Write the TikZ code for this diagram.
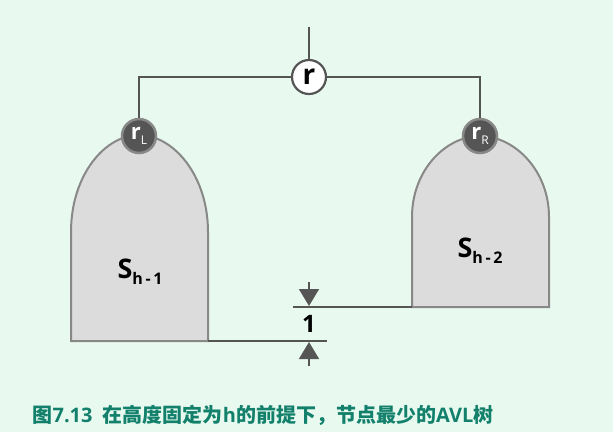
\documentclass[tikz,border=0pt]{standalone}
\usepackage{fontspec}
\setmainfont{Open Sans}
\newfontfamily\cjk{Noto Sans CJK SC}
\usetikzlibrary{arrows.meta}
\definecolor{bgmint}{HTML}{E8FAF0}
\definecolor{linegray}{HTML}{555555}
\definecolor{treegray}{HTML}{DCDCDC}
\definecolor{edgegray}{HTML}{888888}
\definecolor{capteal}{HTML}{13806C}

\tikzset{
    subtree/.style={fill=treegray, draw=edgegray, line width=2pt},
    rootnode/.style={circle, fill=white, draw=linegray, line width=2.2pt,
        minimum size=34pt, inner sep=0pt, font=\fontsize{28}{28}\selectfont\bfseries},
    childnode/.style={circle, fill=linegray, draw=edgegray, line width=2.5pt,
        minimum size=34pt, inner sep=0pt, text=white, font=\fontsize{22}{22}\selectfont\bfseries},
    treelabel/.style={font=\fontsize{27}{27}\selectfont\bfseries},
    link/.style={draw=linegray, line width=2pt},
    gap/.style={-{Triangle[width=20pt,length=17pt]}, draw=linegray, fill=linegray, line width=1.5pt}
}

\begin{document}
\begin{tikzpicture}[x=1pt,y=-1pt]
        \fill[bgmint] (0,0) rectangle (613,432);
        \useasboundingbox (0,0) rectangle (613,432);

        % subtrees
        \draw[subtree] (71,341) -- (71,232) .. controls (71,175) and (105,135) .. (139,135)
            .. controls (173,135) and (208,175) .. (208,232) -- (208,341) -- cycle;
        \draw[subtree] (412,307) -- (412,217) .. controls (412,170) and (446,136) .. (480,136)
            .. controls (514,136) and (549,170) .. (549,217) -- (549,307) -- cycle;
        \node[treelabel] (Sleft) at (140,272) {S\raisebox{-6pt}{\fontsize{16}{16}\selectfont h\,-\,1}};
        \node[treelabel] (Sright) at (480,251) {S\raisebox{-6pt}{\fontsize{16}{16}\selectfont h\,-\,2}};

        % nodes
        \coordinate (top) at (309,27);
        \node[rootnode] (r) at (309,77) {r};
        \node[childnode] (rL) at (139,136) {r\raisebox{-5pt}{\fontsize{12}{12}\selectfont\mdseries L}};
        \node[childnode] (rR) at (480,136) {r\raisebox{-5pt}{\fontsize{12}{12}\selectfont\mdseries R}};
        \draw[link] (top) -- (r);
        \draw[link] (r) -| (rL);
        \draw[link] (r) -| (rR);

        % height difference
        \coordinate (lowA) at (208,341);
        \coordinate (lowB) at (327,341);
        \coordinate (highA) at (293,307);
        \coordinate (highB) at (412,307);
        \draw[link, line width=1.5pt] (lowA) -- (lowB);
        \draw[link, line width=1.5pt] (highA) -- (highB);
        \coordinate (downtail) at (309,282);
        \coordinate (downtip) at (309,306);
        \coordinate (uptail) at (309,366);
        \coordinate (uptip) at (309,342);
        \draw[gap] (downtail) -- (downtip);
        \draw[gap] (uptail) -- (uptip);
        \node[font=\fontsize{24}{24}\selectfont\bfseries] (one) at (309,324) {1};

        \node[text=capteal, font=\fontsize{20}{20}\selectfont\bfseries] (caption) at (263,415)
            {{\cjk 图}7.13\ \ {\cjk 在高度固定为}h{\cjk 的前提下，节点最少的}AVL{\cjk 树}};
    \end{tikzpicture}
\end{document}
